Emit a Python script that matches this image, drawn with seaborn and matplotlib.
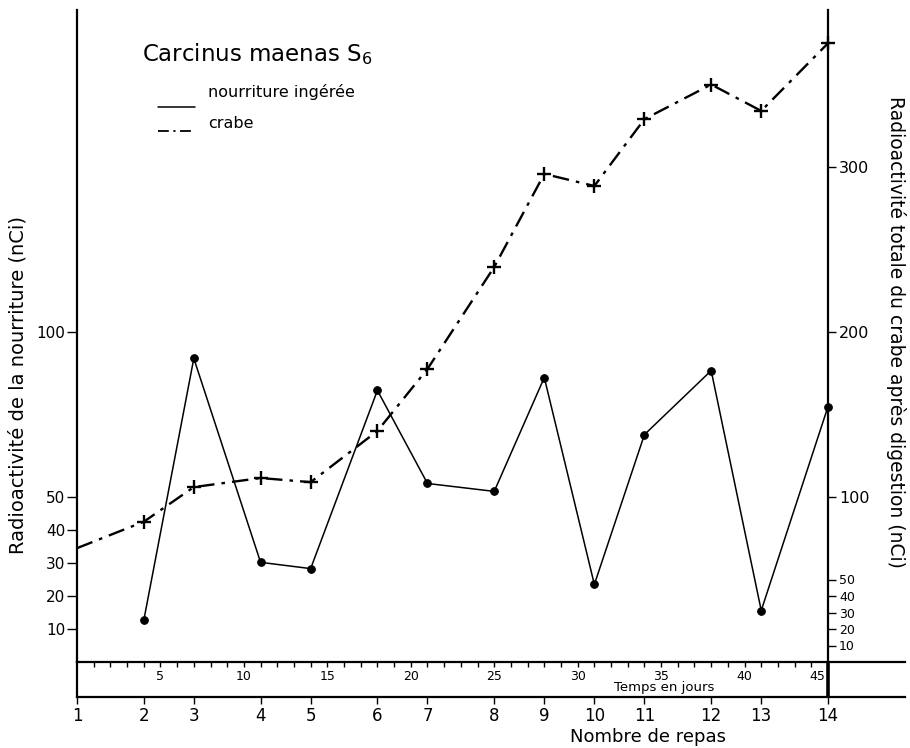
import matplotlib
matplotlib.use("Agg")
import matplotlib.pyplot as plt
import matplotlib.transforms as mtransforms
import seaborn as sns
from matplotlib.lines import Line2D
from matplotlib.ticker import FixedLocator

# ---------------- data ----------------
meal_numbers = list(range(1, 15))
meal_days = [0, 4, 7, 11, 14, 18, 21, 25, 28, 31, 34, 38, 41, 45]
food_days = [4, 7, 11, 14, 18, 21, 25, 28, 31, 34, 38, 41, 45]
food_values = [12.6, 92, 30.2, 28.3, 82.3, 54.1, 51.7, 86.2, 23.5, 68.9, 88.3, 15.6, 77.4]
crab_days = [0, 4, 7, 11, 14, 18, 21, 25, 28, 31, 34, 38, 41, 45]
crab_values = [69, 85, 106, 111.5, 109, 140, 177.6, 239.4, 295.8, 288.5, 329, 350, 334, 375]
day_ticks = [5, 10, 15, 20, 25, 30, 35, 40, 45]
day_minor = list(range(1, 46))
left_ticks = [10, 20, 30, 40, 50, 100]
right_ticks = [10, 20, 30, 40, 50, 100, 200, 300]

sns.set_style("ticks")
plt.rcParams['font.family'] = ['DejaVu Sans']
plt.rcParams['text.color'] = 'black'
plt.rcParams['axes.labelcolor'] = 'black'
plt.rcParams['xtick.color'] = 'black'
plt.rcParams['ytick.color'] = 'black'
plt.rcParams['axes.edgecolor'] = 'black'

W, H = 910, 748
fig = plt.figure(figsize=(W / 100, H / 100), dpi=100)
fig.patch.set_facecolor("white")


def fx(px):
    return px / W


def fy(py):
    return 1 - py / H


X0, X45, XR = 77, 828, 905
YT, YA, YB = 10, 662, 697
ppd = (X45 - X0) / 45.0
xmax = (XR - X0) / ppd

# main axes (left scale, days on x)
ax = fig.add_axes([fx(X0), fy(YA), fx(XR) - fx(X0), fy(YT) - fy(YA)])
ax.set_xlim(0, xmax)
ax.set_ylim(0, (YA - YT) / 3.3)
ax.patch.set_alpha(0)

twin = ax.twinx()
twin.set_ylim(0, (YA - YT) / 1.65)

# series
sns.lineplot(x=food_days, y=food_values, ax=ax, color="k", linewidth=1.1,
             marker="o", markersize=5.5, markeredgecolor="k",
             markerfacecolor="k", clip_on=False)
sns.lineplot(x=crab_days, y=crab_values, ax=twin, color="k", linewidth=1.7,
             linestyle=(0, (7, 3, 1.5, 3)), marker="+", markersize=10,
             markeredgewidth=1.7, markeredgecolor="k",
             markevery=list(range(1, len(crab_days))), clip_on=False)

# spines
for s in ["top", "right"]:
    ax.spines[s].set_visible(False)
ax.spines["left"].set_linewidth(1.6)
ax.spines["bottom"].set_linewidth(1.6)
for s in ["top", "left", "bottom"]:
    twin.spines[s].set_visible(False)
twin.spines["right"].set_position(("data", 45))
twin.spines["right"].set_linewidth(1.6)

# left ticks
ax.set_yticks(left_ticks)
ax.set_yticklabels([str(t) for t in left_ticks])
ax.tick_params(axis="y", direction="out", length=7, width=1, pad=1.5,
               labelsize=11, colors="k")
# temps en jours ticks
ax.set_xticks(day_ticks)
ax.set_xticklabels([str(t) for t in day_ticks])
ax.xaxis.set_minor_locator(FixedLocator(day_minor))
ax.tick_params(axis="x", which="both", direction="out", length=3.5, width=1,
               pad=2.5, labelsize=9, colors="k")
last = ax.get_xticklabels()[-1]
last.set_horizontalalignment("right")
last.set_transform(last.get_transform() +
                   mtransforms.ScaledTranslation(-3 / 100, 0, fig.dpi_scale_trans))

# right ticks
twin.set_yticks(right_ticks)
twin.set_yticklabels([str(t) for t in right_ticks])
twin.tick_params(axis="y", direction="out", length=6, width=1, pad=2, colors="k")
for t, lab in zip(right_ticks, twin.get_yticklabels()):
    lab.set_fontsize(9 if t < 100 else 11.5)

ax.set_xlabel("")
ax.set_ylabel("")
twin.set_ylabel("")

# meal-number axis
ax3 = fig.add_axes([fx(X0), fy(YB), fx(XR) - fx(X0), fy(YA) - fy(YB)])
ax3.set_xlim(0, xmax)
ax3.set_ylim(0, 1)
ax3.patch.set_alpha(0)
ax3.set_yticks([])
for s in ["top", "right"]:
    ax3.spines[s].set_visible(False)
ax3.spines["left"].set_linewidth(1.6)
ax3.spines["bottom"].set_linewidth(1.6)
ax3.set_xticks(meal_days)
ax3.set_xticklabels([str(m) for m in meal_numbers])
ax3.tick_params(axis="x", direction="out", length=5, width=1, pad=2,
                labelsize=12, colors="k")
ax3.axvline(45, color="k", linewidth=2.6)

# axis titles
fig.text(fx(664), fy(688), "Temps en jours", ha="center", va="center", fontsize=9.5)
fig.text(fx(648), fy(737), "Nombre de repas", ha="center", va="center", fontsize=13)
fig.text(fx(18), fy(385), "Radioactivité de la nourriture (nCi)", rotation=90,
         ha="center", va="center", fontsize=14)
fig.text(fx(896), fy(332), "Radioactivité totale du crabe après digestion (nCi)",
         rotation=270, ha="center", va="center", fontsize=13.5)

# legend block
fig.text(fx(142), fy(54), "Carcinus maenas S$_6$", ha="left", va="center", fontsize=16.5)
fig.add_artist(Line2D([fx(158), fx(195)], [fy(107), fy(107)], color="k", linewidth=1.1))
fig.add_artist(Line2D([fx(158), fx(195)], [fy(131), fy(131)], color="k", linewidth=1.3,
                      linestyle=(0, (6, 2.5, 1.2, 2.5))))
fig.text(fx(208), fy(92), "nourriture ingérée", ha="left", va="center", fontsize=11.5)
fig.text(fx(208), fy(123), "crabe", ha="left", va="center", fontsize=11.5)

fig.savefig("out.png", dpi=100, facecolor="white")
